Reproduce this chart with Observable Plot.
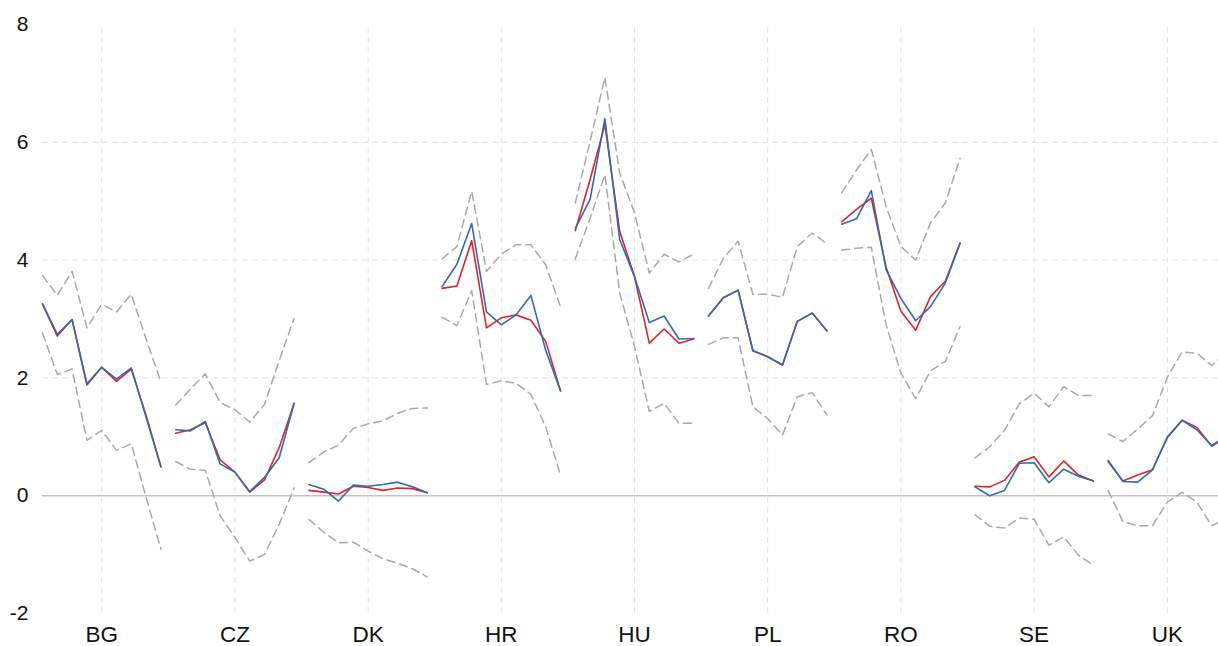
<!DOCTYPE html>
<html>
<head>
<meta charset="utf-8">
<script src="https://cdn.jsdelivr.net/npm/d3@7"></script>
<script src="https://cdn.jsdelivr.net/npm/@observablehq/plot@0.6"></script>
<style>
  html, body { margin: 0; padding: 0; background: #fff; overflow: hidden; }
  svg { overflow: hidden; }
  .yax text { font-size: 21px; }
  .xax text { font-size: 22.5px; }
</style>
</head>
<body>
<div id="chart"></div>
<script>
// Categories (9 observations per country)
const countries = ["BG", "CZ", "DK", "HR", "HU", "PL", "RO", "SE", "UK"];
const yTicks = [-2, 0, 2, 4, 6, 8];

// Red series, 9 values per country in the order of `countries`
const redSeries = [
  3.25, 2.71, 2.99, 1.88, 2.18, 1.94, 2.15, 1.36, 0.49,   // BG
  1.06, 1.12, 1.24, 0.61, 0.40, 0.06, 0.27, 0.82, 1.57,   // CZ
  0.09, 0.06, 0.03, 0.16, 0.14, 0.09, 0.13, 0.12, 0.05,   // DK
  3.52, 3.56, 4.33, 2.85, 3.02, 3.07, 2.98, 2.62, 1.78,   // HR
  4.50, 5.37, 6.30, 4.49, 3.72, 2.59, 2.83, 2.59, 2.66,   // HU
  3.05, 3.36, 3.49, 2.46, 2.36, 2.22, 2.96, 3.10, 2.80,   // PL
  4.65, 4.86, 5.05, 3.88, 3.13, 2.81, 3.38, 3.64, 4.29,   // RO
  0.16, 0.15, 0.26, 0.57, 0.66, 0.32, 0.59, 0.35, 0.25,   // SE
  0.58, 0.25, 0.35, 0.44, 0.99, 1.28, 1.16, 0.84, 1.00    // UK
];

// Blue series
const blueSeries = [
  3.26, 2.74, 2.99, 1.90, 2.18, 1.98, 2.17, 1.33, 0.49,   // BG
  1.12, 1.10, 1.26, 0.54, 0.40, 0.07, 0.31, 0.65, 1.57,   // CZ
  0.19, 0.11, -0.09, 0.18, 0.16, 0.19, 0.23, 0.15, 0.05,  // DK
  3.55, 3.93, 4.62, 3.12, 2.90, 3.07, 3.40, 2.47, 1.78,   // HR
  4.54, 5.03, 6.40, 4.35, 3.72, 2.94, 3.05, 2.66, 2.67,   // HU
  3.05, 3.36, 3.49, 2.46, 2.36, 2.22, 2.96, 3.10, 2.80,   // PL
  4.61, 4.70, 5.18, 3.84, 3.35, 2.97, 3.21, 3.61, 4.29,   // RO
  0.15, 0.00, 0.09, 0.55, 0.56, 0.22, 0.45, 0.33, 0.25,   // SE
  0.60, 0.24, 0.23, 0.44, 0.99, 1.28, 1.12, 0.85, 1.02    // UK
];

// Upper band (grey dashed)
const upperSeries = [
  3.74, 3.40, 3.81, 2.85, 3.25, 3.12, 3.42, 2.66, 1.93,   // BG
  1.54, 1.81, 2.07, 1.58, 1.46, 1.25, 1.55, 2.30, 3.01,   // CZ
  0.56, 0.74, 0.86, 1.14, 1.22, 1.27, 1.40, 1.48, 1.49,   // DK
  4.02, 4.23, 5.17, 3.81, 4.10, 4.26, 4.26, 3.92, 3.21,   // HR
  4.97, 6.02, 7.10, 5.48, 4.80, 3.78, 4.10, 3.97, 4.10,   // HU
  3.52, 4.03, 4.32, 3.42, 3.42, 3.37, 4.23, 4.46, 4.28,   // PL
  5.14, 5.53, 5.88, 4.91, 4.23, 4.00, 4.63, 4.97, 5.73,   // RO
  0.64, 0.83, 1.11, 1.56, 1.74, 1.51, 1.85, 1.70, 1.70,   // SE
  1.05, 0.92, 1.13, 1.36, 2.01, 2.44, 2.42, 2.21, 2.43    // UK
];

// Lower band (grey dashed)
const lowerSeries = [
  2.76, 2.06, 2.15, 0.94, 1.11, 0.77, 0.88, -0.03, -0.91,      // BG
  0.58, 0.45, 0.43, -0.34, -0.71, -1.11, -1.00, -0.48, 0.13,   // CZ
  -0.40, -0.62, -0.80, -0.79, -0.94, -1.07, -1.15, -1.24, -1.38, // DK
  3.03, 2.89, 3.48, 1.89, 1.95, 1.91, 1.72, 1.17, 0.35,        // HR
  4.02, 4.71, 5.45, 3.44, 2.53, 1.43, 1.57, 1.23, 1.23,        // HU
  2.57, 2.68, 2.68, 1.51, 1.31, 1.03, 1.68, 1.75, 1.37,        // PL
  4.17, 4.20, 4.22, 2.90, 2.08, 1.65, 2.12, 2.28, 2.87,        // RO
  -0.32, -0.52, -0.55, -0.38, -0.40, -0.84, -0.70, -1.01, -1.18, // SE
  0.09, -0.44, -0.51, -0.51, -0.11, 0.06, -0.11, -0.51, -0.39  // UK
];

const perGroup = 9;

// Build a tidy table: position = country band index + offset of the observation within the band
const rows = redSeries.map((r, i) => {
  const g = Math.floor(i / perGroup);
  const j = i % perGroup;
  return {
    country: countries[g],
    pos: g + 0.5 + (j - (perGroup - 1) / 2) / perGroup,
    red: r,
    blue: blueSeries[i],
    upper: upperSeries[i],
    lower: lowerSeries[i]
  };
});

const centers = countries.map((c, g) => g + 0.5);

const gridColor = "#e2e2e2";
const bandColor = "#a9a9a9";

const chart = Plot.plot({
  width: 1218,
  height: 646,
  marginLeft: 42,
  marginRight: 0,
  marginTop: 24,
  marginBottom: 33,
  style: { fontFamily: "'Liberation Sans', Arial, sans-serif", color: "#111", background: "#fff" },
  x: { type: "linear", domain: [0.5 / perGroup, 8.8844] },
  y: { domain: [-2, 8] },
  marks: [
    Plot.ruleY([2, 4, 6], { stroke: gridColor, strokeWidth: 1, strokeDasharray: "6,4" }),
    Plot.ruleX(centers, { y1: -2, y2: 8, stroke: gridColor, strokeWidth: 1, strokeDasharray: "6,4" }),
    Plot.ruleY([0], { stroke: "#c4c4c4", strokeWidth: 1.5 }),
    Plot.line(rows, { x: "pos", y: "upper", z: "country", stroke: bandColor, strokeWidth: 1.5, strokeDasharray: "8,5" }),
    Plot.line(rows, { x: "pos", y: "lower", z: "country", stroke: bandColor, strokeWidth: 1.5, strokeDasharray: "8,5" }),
    Plot.line(rows, { x: "pos", y: "red", z: "country", stroke: "#e42129", strokeWidth: 1.6 }),
    Plot.line(rows, { x: "pos", y: "blue", z: "country", stroke: "#2d6cb8", strokeWidth: 1.6 }),
    Plot.axisY({ ticks: yTicks, tickSize: 0, tickPadding: 14, fontSize: 21, label: null, className: "yax",
                 tickFormat: d => String(d) }),
    Plot.axisX({ ticks: centers, tickSize: 0, tickPadding: 13, fontSize: 22.5, label: null, className: "xax",
                 tickFormat: d => countries[Math.floor(d)] })
  ]
});

document.getElementById("chart").appendChild(chart);
</script>
</body>
</html>
